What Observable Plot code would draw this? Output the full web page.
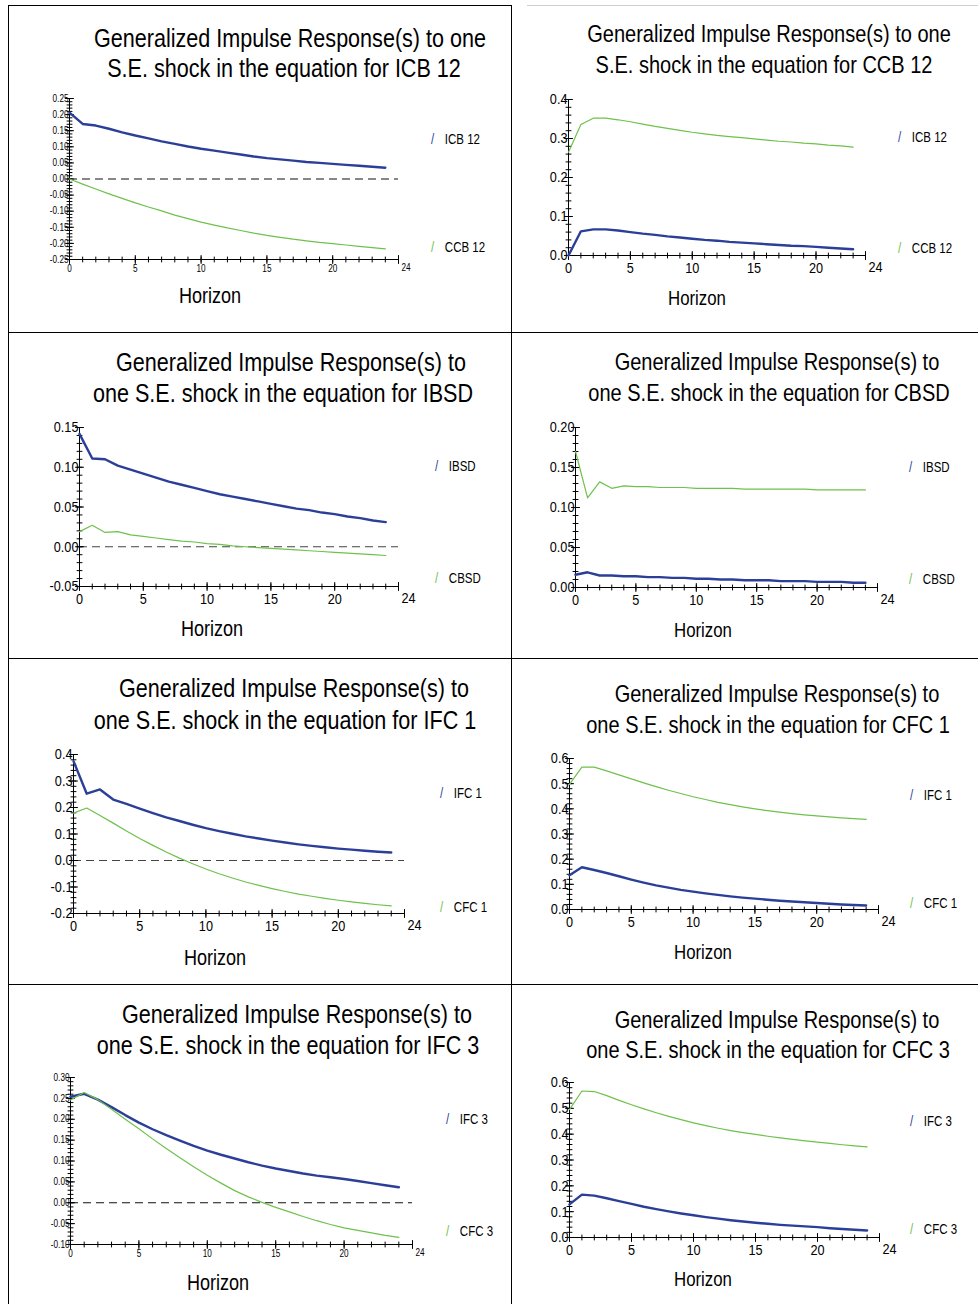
<!DOCTYPE html>
<html>
<head>
<meta charset="utf-8">
<script src="https://cdn.jsdelivr.net/npm/d3@7"></script>
<script src="https://cdn.jsdelivr.net/npm/@observablehq/plot@0.6"></script>
<style>
  body { margin: 0; background: #fff; }
  #page { position: relative; width: 978px; height: 1304px; overflow: hidden; background: #fff;
          font-family: "Liberation Sans", Arial, sans-serif; color: #000; }
  .ctr { position: absolute; white-space: nowrap; line-height: 1; transform: translate(-50%, -50%) scaleX(0.82); }
  .titleL { font-size: 26.3px; }
  .titleR { font-size: 24.4px; }
  .horizonL { font-size: 22px; }
  .horizonR { font-size: 20.5px; }
  .leg { position: absolute; white-space: nowrap; line-height: 1; font-size: 14px; transform-origin: 0 50%; transform: translateY(-50%) scaleX(0.82); }
  .leg .sl { display: inline-block; margin-right: 13px; }
  .rule { position: absolute; background: #000; }
</style>
</head>
<body>
<div id="page"></div>
<script>
// ---------- DATA ----------
const horizons25 = [0,1,2,3,4,5,6,7,8,9,10,11,12,13,14,15,16,17,18,19,20,21,22,23,24];
const horizons24 = [0,1,2,3,4,5,6,7,8,9,10,11,12,13,14,15,16,17,18,19,20,21,22,23];

// shock in equation for ICB 12
const shockICB12_ICB12 = [0.206,0.171,0.166,0.156,0.145,0.135,0.126,0.117,0.109,0.101,0.094,0.088,0.082,0.076,0.070,0.065,0.061,0.057,0.053,0.050,0.047,0.044,0.041,0.038,0.035];
const shockICB12_CCB12 = [0.000,-0.016,-0.031,-0.046,-0.060,-0.074,-0.087,-0.099,-0.112,-0.123,-0.134,-0.143,-0.152,-0.160,-0.168,-0.175,-0.181,-0.187,-0.192,-0.197,-0.201,-0.205,-0.209,-0.213,-0.217];
// shock in equation for CCB 12
const shockCCB12_ICB12 = [0.000,0.062,0.067,0.067,0.064,0.060,0.056,0.053,0.049,0.046,0.043,0.040,0.038,0.035,0.033,0.031,0.029,0.027,0.025,0.024,0.022,0.020,0.018,0.016];
const shockCCB12_CCB12 = [0.265,0.336,0.352,0.352,0.348,0.343,0.337,0.331,0.326,0.321,0.316,0.312,0.308,0.305,0.302,0.299,0.296,0.293,0.291,0.288,0.286,0.283,0.281,0.278];
// shock in equation for IBSD
const shockIBSD_IBSD = [0.142,0.111,0.110,0.102,0.097,0.092,0.087,0.082,0.078,0.074,0.070,0.066,0.063,0.060,0.057,0.054,0.051,0.048,0.046,0.043,0.041,0.038,0.036,0.033,0.031];
const shockIBSD_CBSD = [0.019,0.027,0.018,0.019,0.015,0.013,0.011,0.009,0.007,0.006,0.004,0.003,0.001,0.000,-0.001,-0.002,-0.003,-0.004,-0.005,-0.006,-0.007,-0.008,-0.009,-0.010,-0.011];
// shock in equation for CBSD
const shockCBSD_IBSD = [0.016,0.019,0.015,0.015,0.014,0.014,0.013,0.013,0.012,0.012,0.011,0.011,0.010,0.010,0.009,0.009,0.009,0.008,0.008,0.008,0.007,0.007,0.007,0.006,0.006];
const shockCBSD_CBSD = [0.170,0.112,0.132,0.124,0.127,0.126,0.126,0.125,0.125,0.125,0.124,0.124,0.124,0.124,0.123,0.123,0.123,0.123,0.123,0.123,0.122,0.122,0.122,0.122,0.122];
// shock in equation for IFC 1
const shockIFC1_IFC1 = [0.375,0.252,0.268,0.230,0.214,0.196,0.179,0.163,0.149,0.135,0.122,0.111,0.101,0.091,0.083,0.075,0.068,0.061,0.055,0.050,0.045,0.041,0.037,0.033,0.030];
const shockIFC1_CFC1 = [0.179,0.198,0.170,0.141,0.111,0.083,0.057,0.032,0.009,-0.012,-0.032,-0.050,-0.066,-0.081,-0.094,-0.106,-0.117,-0.127,-0.135,-0.143,-0.150,-0.156,-0.162,-0.167,-0.171];
// shock in equation for CFC 1
const shockCFC1_IFC1 = [0.136,0.168,0.157,0.145,0.132,0.119,0.107,0.096,0.087,0.078,0.071,0.064,0.058,0.052,0.047,0.043,0.039,0.035,0.032,0.029,0.026,0.023,0.020,0.018,0.016];
const shockCFC1_CFC1 = [0.497,0.566,0.566,0.551,0.535,0.519,0.503,0.488,0.474,0.461,0.448,0.437,0.426,0.417,0.408,0.400,0.393,0.387,0.381,0.376,0.372,0.368,0.364,0.361,0.358];
// shock in equation for IFC 3
const shockIFC3_IFC3 = [0.254,0.261,0.247,0.229,0.210,0.192,0.176,0.162,0.149,0.136,0.125,0.115,0.106,0.097,0.089,0.082,0.076,0.070,0.065,0.061,0.057,0.052,0.047,0.042,0.037];
const shockIFC3_CFC3 = [0.246,0.264,0.247,0.224,0.200,0.177,0.153,0.130,0.108,0.086,0.066,0.047,0.029,0.014,0.001,-0.011,-0.022,-0.033,-0.043,-0.052,-0.060,-0.066,-0.072,-0.078,-0.083];
// shock in equation for CFC 3
const shockCFC3_IFC3 = [0.128,0.166,0.162,0.152,0.141,0.130,0.119,0.110,0.101,0.093,0.086,0.079,0.073,0.067,0.062,0.057,0.053,0.049,0.046,0.043,0.040,0.036,0.033,0.030,0.027];
const shockCFC3_CFC3 = [0.495,0.567,0.565,0.549,0.531,0.514,0.498,0.483,0.469,0.456,0.444,0.433,0.423,0.414,0.406,0.399,0.392,0.386,0.380,0.374,0.369,0.364,0.359,0.355,0.351];

// tick labels
const yTicksICB12 = [-0.25,-0.20,-0.15,-0.10,-0.05,0,0.05,0.10,0.15,0.20,0.25];
const yTicksCCB12 = [0,0.1,0.2,0.3,0.4];
const yTicksIBSD  = [-0.05,0,0.05,0.10,0.15];
const yTicksCBSD  = [0,0.05,0.10,0.15,0.20];
const yTicksIFC1  = [-0.2,-0.1,0,0.1,0.2,0.3,0.4];
const yTicksCFC1  = [0,0.1,0.2,0.3,0.4,0.5,0.6];
const yTicksIFC3  = [-0.10,-0.05,0,0.05,0.10,0.15,0.20,0.25,0.30];
const yTicksCFC3  = [0,0.1,0.2,0.3,0.4,0.5,0.6];
const xTickLabels = [0,5,10,15,20];
const xEndLabel = "24";

const titleLine1 = ["Generalized Impulse Response(s) to one","Generalized Impulse Response(s) to one",
  "Generalized Impulse Response(s) to","Generalized Impulse Response(s) to",
  "Generalized Impulse Response(s) to","Generalized Impulse Response(s) to",
  "Generalized Impulse Response(s) to","Generalized Impulse Response(s) to"];
const titleLine2 = ["S.E. shock in the equation for ICB 12","S.E. shock in the equation for CCB 12",
  "one S.E. shock in the equation for IBSD","one S.E. shock in the equation for CBSD",
  "one S.E. shock in the equation for IFC 1","one S.E. shock in the equation for CFC 1",
  "one S.E. shock in the equation for IFC 3","one S.E. shock in the equation for CFC 3"];
const seriesNames = [["ICB 12","CCB 12"],["ICB 12","CCB 12"],["IBSD","CBSD"],["IBSD","CBSD"],
  ["IFC 1","CFC 1"],["IFC 1","CFC 1"],["IFC 3","CFC 3"],["IFC 3","CFC 3"]];
const axisLabel = "Horizon";

// ---------- LAYOUT / STYLE ----------
const BLUE = "#2b3f98", GREEN = "#6ec14c";
const FONT = '"Liberation Sans", Arial, sans-serif';
const SQUEEZE = 0.82;

const panels = [
  {h: horizons25, a: shockICB12_ICB12, b: shockICB12_CCB12, yt: yTicksICB12, dec: 2, xEnd: 25, small: true,
   g: {x0: 69, x1: 398, yT: 98, yB: 259}, t1: [289.5, 38], t2: [284, 68], hz: [210, 296], leg: [431, 139, 247]},
  {h: horizons24, a: shockCCB12_ICB12, b: shockCCB12_CCB12, yt: yTicksCCB12, dec: 1, xEnd: 24, small: false,
   g: {x0: 568, x1: 865, yT: 99, yB: 255}, t1: [769, 34], t2: [764, 65], hz: [697, 298], leg: [898, 137, 248]},
  {h: horizons25, a: shockIBSD_IBSD, b: shockIBSD_CBSD, yt: yTicksIBSD, dec: 2, xEnd: 25, small: false,
   g: {x0: 79, x1: 398, yT: 427, yB: 586}, t1: [290.5, 362], t2: [282.5, 393], hz: [212, 629], leg: [435, 466, 578]},
  {h: horizons25, a: shockCBSD_IBSD, b: shockCBSD_CBSD, yt: yTicksCBSD, dec: 2, xEnd: 25, small: false,
   g: {x0: 575, x1: 877, yT: 427, yB: 587}, t1: [777, 362], t2: [768.5, 393], hz: [703, 630], leg: [909, 467, 579]},
  {h: horizons25, a: shockIFC1_IFC1, b: shockIFC1_CFC1, yt: yTicksIFC1, dec: 1, xEnd: 25, small: false,
   g: {x0: 73, x1: 404, yT: 754, yB: 913}, t1: [293.5, 688], t2: [284.5, 720], hz: [215, 958], leg: [440, 793, 907]},
  {h: horizons25, a: shockCFC1_IFC1, b: shockCFC1_CFC1, yt: yTicksCFC1, dec: 1, xEnd: 25, small: false,
   g: {x0: 569, x1: 878, yT: 758, yB: 909}, t1: [777, 694], t2: [768, 725], hz: [703, 952], leg: [910, 795, 903]},
  {h: horizons25, a: shockIFC3_IFC3, b: shockIFC3_CFC3, yt: yTicksIFC3, dec: 2, xEnd: 25, small: true,
   g: {x0: 70, x1: 412, yT: 1077, yB: 1244}, t1: [297, 1014], t2: [288, 1045], hz: [218, 1283], leg: [446, 1119, 1231]},
  {h: horizons25, a: shockCFC3_IFC3, b: shockCFC3_CFC3, yt: yTicksCFC3, dec: 1, xEnd: 25, small: false,
   g: {x0: 569, x1: 879, yT: 1082, yB: 1237}, t1: [777, 1020], t2: [768, 1050], hz: [703, 1279], leg: [910, 1121, 1229]}
];

const page = document.getElementById("page");

// grid borders
function rule(l, t, w, h, c) {
  const d = document.createElement("div");
  d.className = "rule";
  Object.assign(d.style, {left: l + "px", top: t + "px", width: w + "px", height: h + "px"});
  if (c) d.style.background = c;
  page.appendChild(d);
}
rule(8, 5, 1, 1299);
rule(511, 5, 1, 1299);
rule(8, 5, 504, 1);
rule(527, 5, 451, 1, "#cfcfcf");
rule(8, 332, 970, 1);
rule(8, 658, 970, 1);
rule(8, 984, 970, 1);

function centered(text, cls, x, y) {
  const d = document.createElement("div");
  d.className = "ctr " + cls;
  d.textContent = text;
  d.style.left = x + "px";
  d.style.top = y + "px";
  page.appendChild(d);
}
function legendItem(name, color, x, y) {
  const d = document.createElement("div");
  d.className = "leg";
  d.style.left = x + "px";
  d.style.top = y + "px";
  const s = document.createElement("span");
  s.className = "sl";
  s.style.color = color;
  s.textContent = "/";
  d.appendChild(s);
  d.appendChild(document.createTextNode(name));
  page.appendChild(d);
}

// condense svg text horizontally around its anchor (Plot positions text via transform="translate(x,y)")
function squeezeText(svg, s) {
  svg.querySelectorAll("text").forEach(t => {
    const tr = t.getAttribute("transform") || "";
    t.setAttribute("transform", (tr + ` scale(${s},1)`).trim());
  });
}

const tickShape = {draw(context, l) { context.moveTo(0, 0); context.lineTo(0, -l); }};

panels.forEach((p, i) => {
  const mL = 45, mR = 30, mT = 8, mB = 25;
  const W = (p.g.x1 - p.g.x0) + mL + mR;
  const H = (p.g.yB - p.g.yT) + mT + mB;
  const yMin = p.yt[0], yMax = p.yt[p.yt.length - 1];
  const step = p.yt[1] - p.yt[0];
  const yMinor = d3.range(0, Math.round((yMax - yMin) / (step / 5)) + 1).map(k => yMin + k * step / 5);
  const xMinor = d3.range(0, p.xEnd + 1);
  const xMajor = xTickLabels.concat([p.xEnd]);
  const fs = p.small ? 10 : 15.5;
  const rowsA = p.h.map((h, k) => ({h, v: p.a[k]}));
  const rowsB = p.h.map((h, k) => ({h, v: p.b[k]}));

  const marks = [];
  if (yMin < 0) marks.push(Plot.ruleY([0], {stroke: p.small ? "#111" : "#444", strokeWidth: 1.2, strokeDasharray: "8,5"}));
  marks.push(
    Plot.ruleX([0], {stroke: "#000", strokeWidth: 1}),
    Plot.ruleY([yMin], {stroke: "#000", strokeWidth: 1}),
    Plot.vector(xMinor, {x: d => d, y: () => yMin, length: 5, anchor: "middle", shape: tickShape, stroke: "#000", strokeWidth: 1}),
    Plot.vector(xMajor, {x: d => d, y: () => yMin, length: 8, anchor: "middle", shape: tickShape, stroke: "#000", strokeWidth: 1}),
    Plot.vector(yMinor, {x: () => 0, y: d => d, length: 5, rotate: 90, anchor: "middle", shape: tickShape, stroke: "#000", strokeWidth: 1}),
    Plot.vector(p.yt, {x: () => 0, y: d => d, length: 8, rotate: 90, anchor: "middle", shape: tickShape, stroke: "#000", strokeWidth: 1}),
    Plot.text(p.yt, {x: () => 0, y: d => d, text: d => d.toFixed(p.dec), textAnchor: "end", dx: -1, fontSize: fs}),
    Plot.text(xTickLabels, {x: d => d, y: () => yMin, text: d => String(d), lineAnchor: "top", dy: p.small ? 5 : 6, fontSize: fs}),
    Plot.text([p.xEnd], {x: d => d, y: () => yMin, text: () => xEndLabel, lineAnchor: "top", textAnchor: "start", dx: 3, dy: p.small ? 4 : 5, fontSize: fs}),
    Plot.line(rowsA, {x: "h", y: "v", stroke: BLUE, strokeWidth: 2.4}),
    Plot.line(rowsB, {x: "h", y: "v", stroke: GREEN, strokeWidth: 1.2})
  );

  const svg = Plot.plot({
    width: W, height: H,
    marginLeft: mL, marginRight: mR, marginTop: mT, marginBottom: mB,
    x: {domain: [0, p.xEnd], axis: null},
    y: {domain: [yMin, yMax], axis: null},
    style: {fontFamily: FONT, background: "transparent", overflow: "visible", color: "#000"},
    marks
  });
  squeezeText(svg, SQUEEZE);
  svg.style.position = "absolute";
  svg.style.left = (p.g.x0 - mL) + "px";
  svg.style.top = (p.g.yT - mT) + "px";
  page.appendChild(svg);

  const side = i % 2 === 0 ? "L" : "R";
  centered(titleLine1[i], "title" + side, p.t1[0], p.t1[1]);
  centered(titleLine2[i], "title" + side, p.t2[0], p.t2[1]);
  centered(axisLabel, "horizon" + side, p.hz[0], p.hz[1]);
  legendItem(seriesNames[i][0], BLUE, p.leg[0], p.leg[1]);
  legendItem(seriesNames[i][1], GREEN, p.leg[0], p.leg[2]);
});
</script>
</body>
</html>
